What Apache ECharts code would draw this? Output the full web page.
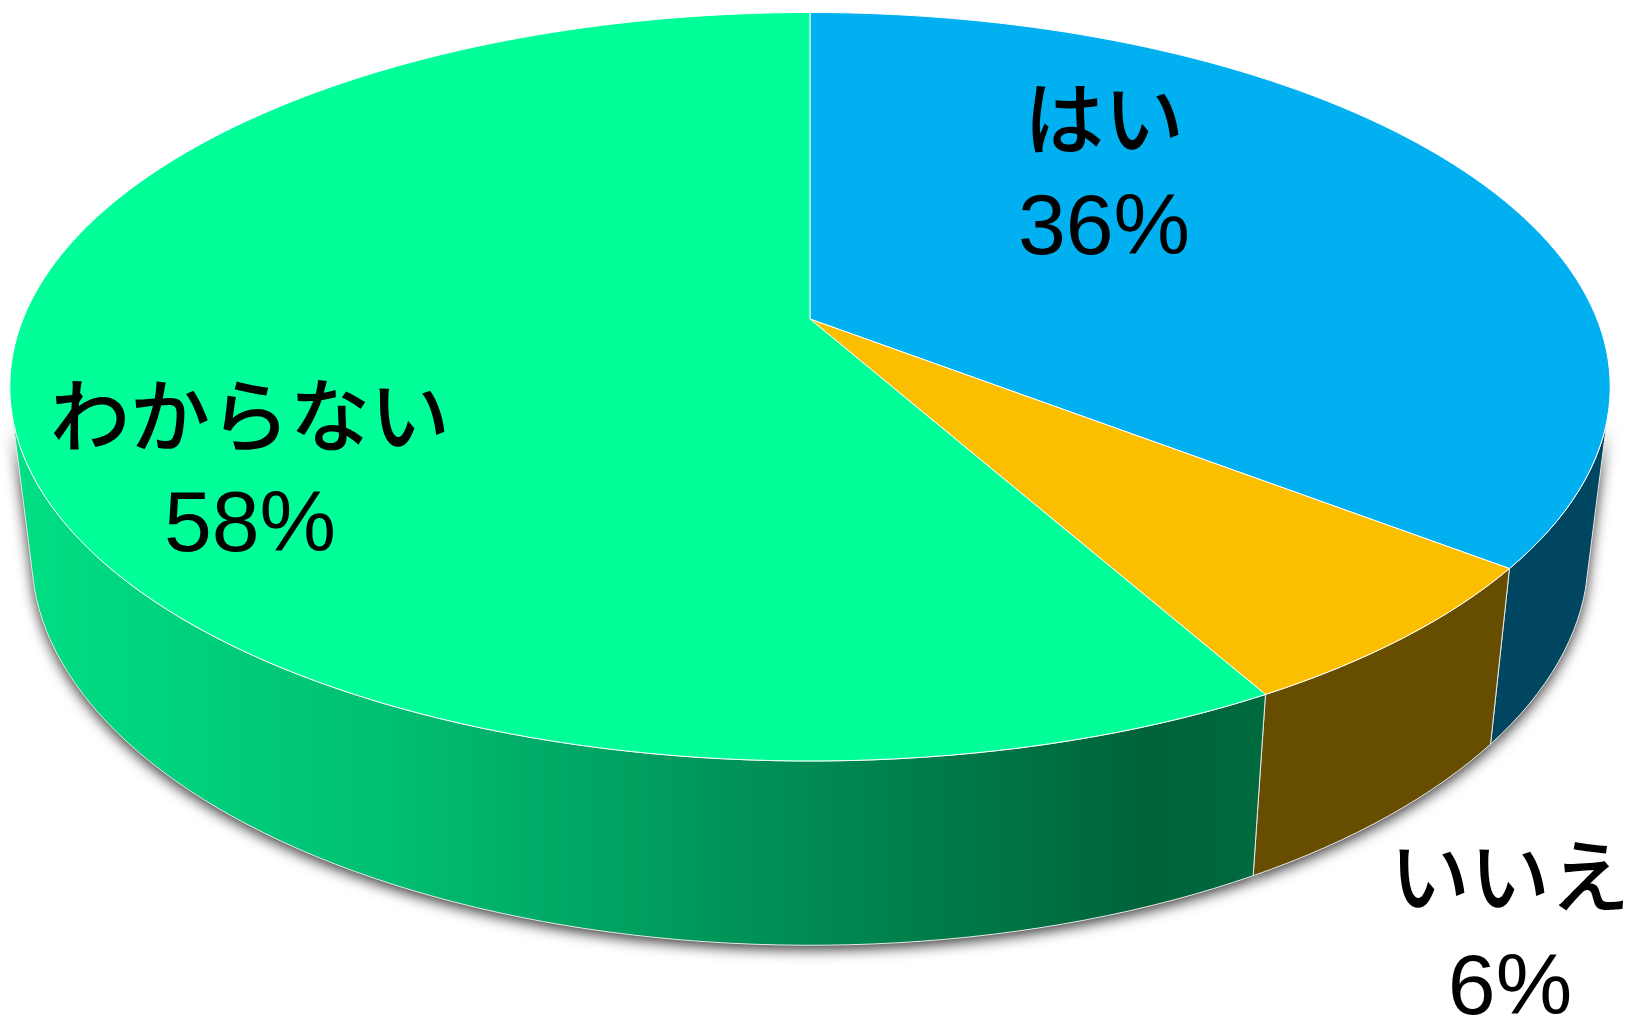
<!DOCTYPE html>
<html>
<head>
<meta charset="utf-8">
<script src="https://cdn.jsdelivr.net/npm/echarts@6/dist/echarts.min.js"></script>
<style>
  html, body { margin: 0; padding: 0; background: #fff; }
  #main { width: 1628px; height: 1017px; }
</style>
</head>
<body>
<div id="main"></div>
<script>
var categories = ['はい', 'いいえ', 'わからない'];
var shareValues = [35.5, 6.4, 58.1];

var topColors = ['#00B0F0', '#FCBE00', '#00FF99'];
var wallColors = ['#004660', '#664D00', null];

// where the two text lines of each slice go: [x, y of name, y of percent]
var labelPlaces = [[1104, 126, 230], [1510, 884, 990], [250, 423, 527]];

var chart = echarts.init(document.getElementById('main'));

var total = shareValues.reduce(function (a, b) { return a + b; }, 0);

// perspective circle: top surface is a tilted disc seen from the front
var apexX = 810, apexY = 319, radX = 787, radY = 362, persp = 0.181;

function topPoint(deg) {
  var t = deg * Math.PI / 180;
  var u = Math.sin(t), v = -Math.cos(t);
  var d = 1 - persp * v;
  return [apexX + radX * u / d, apexY + radY * v / d];
}

function bottomPoint(deg) {
  var p = topPoint(deg);
  return [apexX + 0.973 * (p[0] - apexX), 1.045 * p[1] + 150];
}

function sliceRange(i) {
  var start = 0;
  for (var n = 0; n < i; n++) start += shareValues[n];
  return [start / total * 360, (start + shareValues[i]) / total * 360];
}

function arcPoints(from, to, fn) {
  var pts = [];
  var steps = Math.max(2, Math.ceil((to - from) / 1.5));
  for (var s = 0; s <= steps; s++) pts.push(fn(from + (to - from) * s / steps));
  return pts;
}

function wallPoints(i) {
  var r = sliceRange(i);
  // only the front of the rim can be seen
  var from = Math.max(r[0], 105.4), to = Math.min(r[1], 254.6);
  return arcPoints(from, to, topPoint).concat(arcPoints(from, to, bottomPoint).reverse());
}

function wallFill(i) {
  if (wallColors[i]) return wallColors[i];
  return new echarts.graphic.LinearGradient(20, 0, 1260, 0, [
    { offset: 0, color: '#00DF84' },
    { offset: 0.3, color: '#00BE72' },
    { offset: 0.6, color: '#009055' },
    { offset: 0.91, color: '#00633A' },
    { offset: 1, color: '#006A3F' }
  ], true);
}

function renderShadow(params) {
  return {
    type: 'polygon',
    shape: { points: wallPoints(params.dataIndex) },
    style: {
      fill: '#999',
      shadowColor: 'rgba(0,0,0,0.8)',
      shadowBlur: 14,
      shadowOffsetY: 4
    }
  };
}

function renderWall(params) {
  return {
    type: 'polygon',
    shape: { points: wallPoints(params.dataIndex) },
    style: { fill: wallFill(params.dataIndex), stroke: '#E8E8E8', lineWidth: 1 }
  };
}

function renderTop(params) {
  var r = sliceRange(params.dataIndex);
  return {
    type: 'polygon',
    shape: { points: [[apexX, apexY]].concat(arcPoints(r[0], r[1], topPoint)) },
    style: { fill: topColors[params.dataIndex], stroke: '#fff', lineWidth: 1 }
  };
}

function renderLabel(params, api) {
  var i = params.dataIndex;
  var place = labelPlaces[i];
  var family = '"Liberation Sans", "Noto Sans CJK JP", sans-serif';
  return {
    type: 'group',
    children: [
      { type: 'text', style: { x: place[0], y: place[1], text: categories[i], font: '500 80px ' + family, fill: '#000', align: 'center', verticalAlign: 'middle' } },
      { type: 'text', style: { x: place[0], y: place[2], text: Math.round(api.value(0)) + '%', font: '86px ' + family, fill: '#000', align: 'center', verticalAlign: 'middle' } }
    ]
  };
}

option = {
  animation: false,
  backgroundColor: '#fff',
  series: [
    { type: 'custom', name: 'shadow', coordinateSystem: 'none', silent: true, z: 1, renderItem: renderShadow, data: shareValues },
    { type: 'custom', name: 'wall', coordinateSystem: 'none', silent: true, z: 2, renderItem: renderWall, data: shareValues },
    { type: 'custom', name: 'top', coordinateSystem: 'none', silent: true, z: 3, renderItem: renderTop, data: shareValues },
    { type: 'custom', name: 'label', coordinateSystem: 'none', silent: true, z: 4, renderItem: renderLabel, data: shareValues }
  ]
};

chart.setOption(option);
</script>
</body>
</html>
